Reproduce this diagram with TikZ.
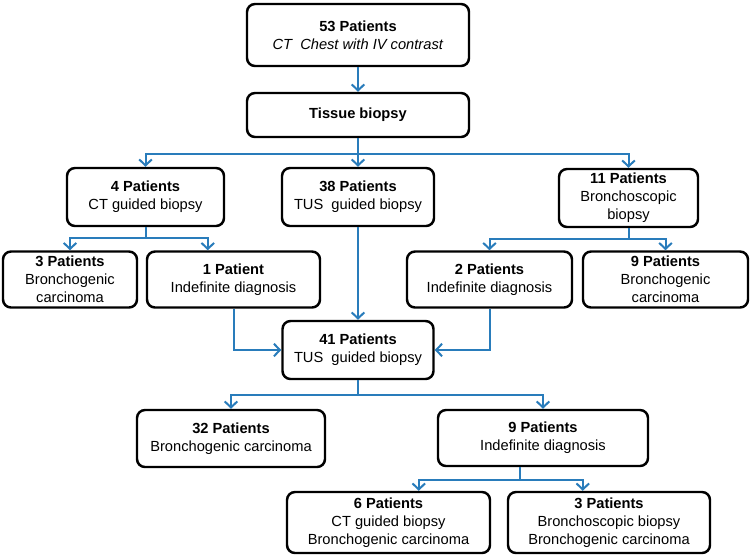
\documentclass[tikz,border=0pt]{standalone}
\usepackage{fontspec}
\setmainfont{Liberation Sans}
\usetikzlibrary{arrows.meta,calc}
\definecolor{arrblue}{RGB}{41,124,187}
\begin{document}
\begin{tikzpicture}[x=0.75pt,y=-0.75pt,
  box/.style={draw=black, line width=1.85pt, rounded corners=6pt, align=center,
    inner sep=0pt, font=\fontsize{11}{13.5}\selectfont},
  arr/.style={draw=arrblue, line width=1.5pt, -{Straight Barb[length=4.5pt,width=9.5pt]}},
  ln/.style={draw=arrblue, line width=1.5pt}]
\useasboundingbox (0,0) rectangle (752,558);
\node[box, minimum width=222*0.75pt, minimum height=62*0.75pt] (A) at (358,35)
  {\textbf{53 Patients}\\\textit{CT\ \ Chest with IV contrast}};
\node[box, minimum width=222*0.75pt, minimum height=44*0.75pt] (B) at (358,115)
  {\textbf{Tissue biopsy}};
\node[box, minimum width=157*0.75pt, minimum height=58*0.75pt] (C) at (145.5,197)
  {\textbf{4 Patients}\\CT guided biopsy};
\node[box, minimum width=152*0.75pt, minimum height=58*0.75pt] (D) at (358,197)
  {\textbf{38 Patients}\\TUS\ \ guided biopsy};
\node[box, minimum width=139*0.75pt, minimum height=58*0.75pt] (E) at (628.5,198)
  {\textbf{11 Patients}\\Bronchoscopic\\biopsy};
\node[box, minimum width=134*0.75pt, minimum height=56*0.75pt] (F) at (70,279.5)
  {\textbf{3 Patients}\\Bronchogenic\\carcinoma};
\node[box, minimum width=173*0.75pt, minimum height=56*0.75pt] (G) at (233.5,279.5)
  {\textbf{1 Patient}\\Indefinite diagnosis};
\node[box, minimum width=165*0.75pt, minimum height=56*0.75pt] (H) at (489.5,279.5)
  {\textbf{2 Patients}\\Indefinite diagnosis};
\node[box, minimum width=165*0.75pt, minimum height=56*0.75pt] (I) at (665.5,279.5)
  {\textbf{9 Patients}\\Bronchogenic\\carcinoma};
\node[box, minimum width=151*0.75pt, minimum height=58*0.75pt] (J) at (358,350)
  {\textbf{41 Patients}\\TUS\ \ guided biopsy};
\node[box, minimum width=188*0.75pt, minimum height=57*0.75pt] (K) at (231,438.5)
  {\textbf{32 Patients}\\Bronchogenic carcinoma};
\node[box, minimum width=210*0.75pt, minimum height=56*0.75pt] (L) at (543,438)
  {\textbf{9 Patients}\\Indefinite diagnosis};
\node[box, minimum width=203*0.75pt, minimum height=61*0.75pt] (M) at (388.5,522.5)
  {\textbf{6 Patients}\\CT guided biopsy\\Bronchogenic carcinoma};
\node[box, minimum width=202*0.75pt, minimum height=61*0.75pt] (N) at (609,522.5)
  {\textbf{3 Patients}\\Bronchoscopic biopsy\\Bronchogenic carcinoma};
% connectors
\draw[arr] (A.south) -- (B.north);
\draw[arr] (B.south) -- ++(0,16) -| (C.north);
\draw[arr] (B.south) -- ++(0,16) -| (E.north);
\draw[arr] (B.south) -- (D.north);
\draw[arr] (C.south) -- ++(0,11) -| (F.north);
\coordinate (Gin) at ($(G.north west)+(62,0)$);
\draw[arr] (C.south) -- ++(0,11) -| (Gin);
\draw[arr] (E.south) -- ++(0,11) -| (H.north);
\draw[arr] (E.south) -- ++(0,11) -| (I.north);
\draw[arr] (G.south) |- (J.west);
\draw[arr] (H.south) |- (J.east);
\draw[arr] (D.south) -- (J.north);
\draw[arr] (J.south) -- ++(0,15) -| (K.north);
\draw[arr] (J.south) -- ++(0,15) -| (L.north);
\coordinate (Lout) at ($(L.south west)+(83,0)$);
\coordinate (Min) at ($(M.north west)+(133,0)$);
\coordinate (Nin) at ($(N.north west)+(76,0)$);
\draw[arr] (Lout) -- ++(0,13) -| (Min);
\draw[arr] (Lout) -- ++(0,13) -| (Nin);
\end{tikzpicture}
\end{document}
